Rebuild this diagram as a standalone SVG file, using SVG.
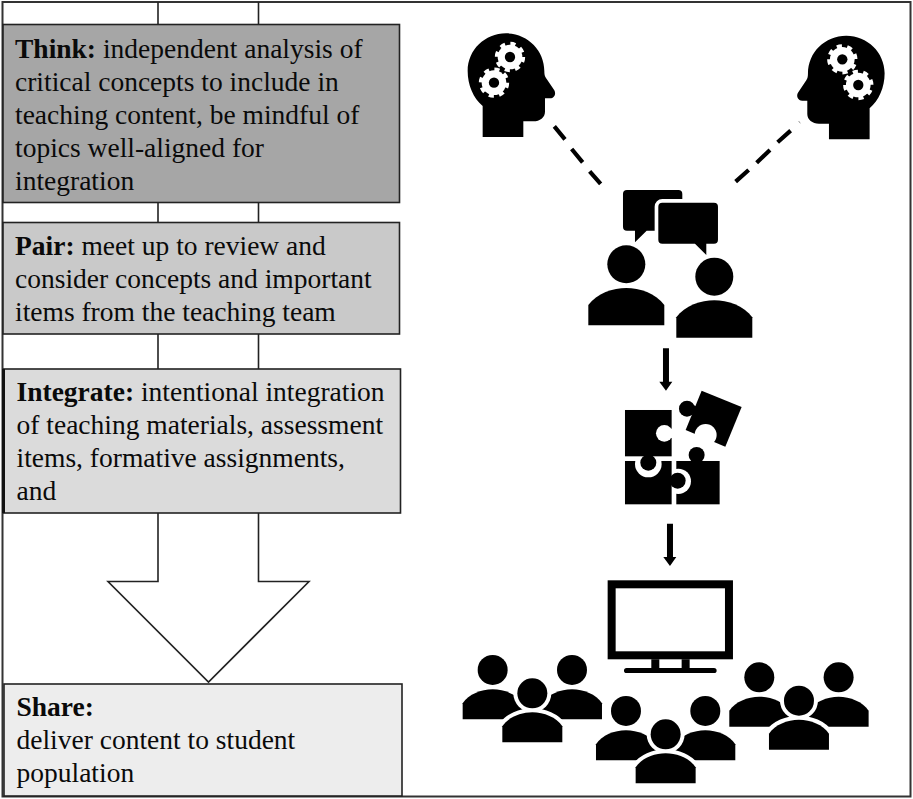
<svg xmlns="http://www.w3.org/2000/svg" xmlns:xlink="http://www.w3.org/1999/xlink" width="913" height="799" viewBox="0 0 913 799">
<style>
.box{stroke:#222;stroke-width:1.6}
.t{font-family:"Liberation Serif","Times New Roman",serif;font-size:27.5px;fill:#0a0a0a}
.t tspan.b{font-weight:bold}
.flow{fill:none;stroke:#222;stroke-width:1.6}
.dash{stroke:#000;stroke-width:12.500;fill:none}
</style>
<defs>
<g id="gear">
<circle r="39" fill="none" stroke="#fff" stroke-width="13" stroke-dasharray="15 15.63"/>
<circle r="37" fill="#fff"/>
<circle r="15.500" fill="#000"/>
</g>
<g id="head">
<path d="M128,411V318C100,295 83,255 83,213C83,150 135,100 198,100C262,100 313,150 313,213C313,222 314,228 318,234L343,271C349,281 343,295 330,295H315V335C315,352 300,364 280,364H250V411Z" fill="#000"/>
<use xlink:href="#gear" href="#gear" x="210" y="171"/>
<use xlink:href="#gear" href="#gear" x="162" y="248"/>
</g>
<path id="talker" d="M445,976V915C470,880 520,864 559,864C598,864 648,880 673,915V976Z" fill="#000"/>
<path id="body" d="M0,90V42C18,15 55,0 90,0C125,0 162,15 180,42V90Z"/>
<g id="trio">
<circle cx="158" cy="990" r="45" fill="#000"/>
<circle cx="396" cy="990" r="45" fill="#000"/>
<use xlink:href="#body" href="#body" x="68" y="1048" fill="#000"/>
<use xlink:href="#body" href="#body" x="306" y="1048" fill="#000"/>
<use xlink:href="#body" href="#body" x="187" y="1117" fill="#fff" stroke="#fff" stroke-width="24"/>
<circle cx="277" cy="1060" r="57" fill="#fff"/>
<use xlink:href="#body" href="#body" x="187" y="1117" fill="#000"/>
<circle cx="277" cy="1060" r="45" fill="#000"/>
</g>
</defs>
<rect width="913" height="799" fill="#fff"/>
<rect id="frame" x="2.500" y="2" width="908" height="794.500" fill="none" stroke="#333" stroke-width="2"/>
<g id="connectors">
<path class="flow" d="M158,2V24M258.500,2V24M158,202V222M258.500,202V222M158,334V369M258.500,334V369"/>
<path class="flow" d="M158,513V581.500H108L208.500,682L309,581.500H258.500V513" fill="#fff"/>
<g transform="translate(440,0) scale(.3333)">
<path class="dash" d="M343,379L375,418M395,447L428,487M449,514L482,552"/>
<path class="dash" d="M887,545L926,510M950,488L990,450M1013,427L1052,392"/>
<path d="M1076,363L1081,370" stroke="#999" stroke-width="3" fill="none"/>
</g>
<g transform="translate(440,340) scale(.3333)" fill="#000">
<path d="M669,25H687V125H697L678,152L658,125H669Z"/>
<path d="M681,551H699V651H709L690,678L670,651H681Z"/>
</g>
</g>
<g id="think">
<rect class="box" x="3" y="24.500" width="396.500" height="178" fill="#a6a6a6"/>
<text class="t" x="15" y="57.700"><tspan class="b">Think:</tspan> independent analysis of</text>
<text class="t" x="15" y="90.700">critical concepts to include in</text>
<text class="t" x="15" y="123.700">teaching content, be mindful of</text>
<text class="t" x="15" y="156.700">topics well-aligned for</text>
<text class="t" x="15" y="189.700">integration</text>
</g>
<g id="pair">
<rect class="box" x="3" y="222.500" width="396.500" height="111.500" fill="#c9c9c9"/>
<text class="t" x="15" y="254.700"><tspan class="b">Pair:</tspan> meet up to review and</text>
<text class="t" x="15" y="287.700">consider concepts and important</text>
<text class="t" x="15" y="320.700">items from the teaching team</text>
</g>
<g id="integrate">
<rect class="box" x="3.500" y="369" width="397" height="144" fill="#dbdbdb"/>
<path d="M3.500,369V513" stroke="#111" stroke-width="3" fill="none"/>
<text class="t" x="16.500" y="400.700"><tspan class="b">Integrate:</tspan> intentional integration</text>
<text class="t" x="16.500" y="433.700">of teaching materials, assessment</text>
<text class="t" x="16.500" y="466.700">items, formative assignments,</text>
<text class="t" x="16.500" y="499.700">and</text>
</g>
<g id="share">
<rect class="box" x="4" y="684" width="398" height="112" fill="#ededed"/>
<text class="t" x="16.500" y="715.700"><tspan class="b">Share:</tspan></text>
<text class="t" x="16.500" y="748.700">deliver content to student</text>
<text class="t" x="16.500" y="781.700">population</text>
</g>
<g id="head-left" transform="translate(440,0) scale(.3333)">
<use xlink:href="#head" href="#head"/>
</g>
<g id="head-right" transform="translate(440,0) scale(.3333) translate(1417,7) scale(-1,1)">
<use xlink:href="#head" href="#head"/>
</g>
<g id="discussion" transform="translate(440,0) scale(.3333)">
<path d="M561,570H715Q727,570 727,582V680Q727,692 715,692H620L585,727V692H561Q549,692 549,680V582Q549,570 561,570Z" fill="#000"/>
<rect x="655" y="608" width="179" height="123" rx="12" fill="#fff" stroke="#fff" stroke-width="22"/>
<path d="M667,608H822Q834,608 834,620V719Q834,731 822,731H799V765L765,731H667Q655,731 655,719V620Q655,608 667,608Z" fill="#000"/>
<circle cx="559" cy="793" r="57" fill="#000"/>
<use xlink:href="#talker" href="#talker"/>
<circle cx="823" cy="830" r="57" fill="#000"/>
<use xlink:href="#talker" href="#talker" x="264" y="37"/>
</g>
<g id="puzzle" transform="translate(440,340) scale(.3333)" fill="#000">
<rect x="709" y="363" width="130" height="130"/>
<circle cx="770" cy="345" r="24"/>
<rect x="757" y="350" width="26" height="20"/>
<circle cx="715" cy="424" r="38" fill="#fff"/>
<rect x="555" y="363" width="140" height="130"/>
<circle cx="625" cy="372" r="40" fill="#fff"/>
<rect x="555" y="210" width="140" height="139"/>
<rect x="612" y="345" width="26" height="22"/>
<circle cx="625" cy="368" r="24"/>
<circle cx="713" cy="422" r="24"/>
<rect x="690" y="410" width="20" height="24"/>
<circle cx="673" cy="280" r="25" fill="#fff"/>
<rect x="680" y="266" width="16" height="28" fill="#fff"/>
<polygon points="785,152 905,201 856,320 737,270"/>
<circle cx="741" cy="206" r="24"/>
<rect x="748" y="196" width="22" height="22" transform="rotate(22 759 207)"/>
<circle cx="797" cy="285" r="33" fill="#fff"/>
</g>
<g id="screen" transform="translate(440,340) scale(.3333)">
<rect x="515" y="733" width="352" height="213" fill="#fff" stroke="#000" stroke-width="24"/>
<path d="M634,958H658V984H725V958H749V984H822Q830,984 830,992Q830,999 822,999H560Q552,999 552,992Q552,984 560,984H634Z" fill="#000"/>
</g>
<g id="audience" transform="translate(440,340) scale(.3333)">
<use xlink:href="#trio" href="#trio"/>
<use xlink:href="#trio" href="#trio" x="400" y="123"/>
<use xlink:href="#trio" href="#trio" x="800" y="22"/>
</g>
</svg>
